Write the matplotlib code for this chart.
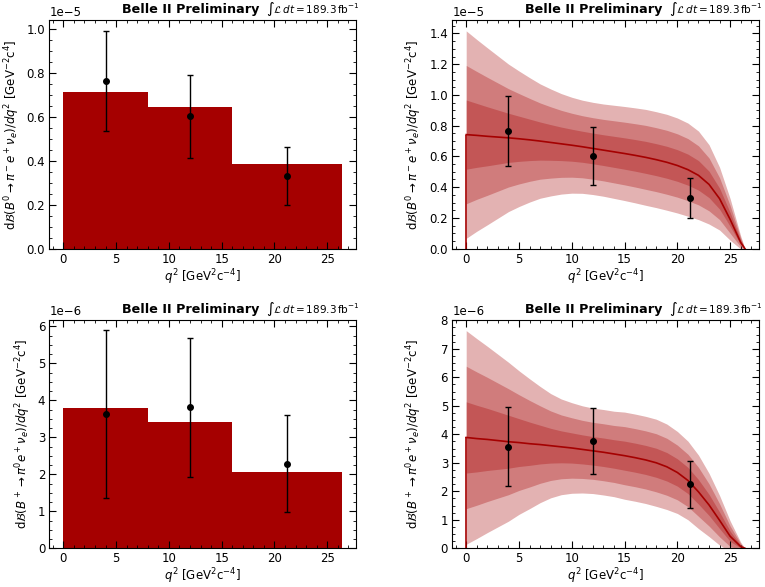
import numpy as np
import matplotlib
matplotlib.use("Agg")
import matplotlib.pyplot as plt
from matplotlib.ticker import AutoMinorLocator

# ------------------------------------------------------------------
# data
# ------------------------------------------------------------------
bin_edges = [0.0, 8.0, 16.0, 26.4]
q2_points = [4.0, 12.0, 21.2]

# B0 -> pi- e+ nu  (units 1e-5)
b0_bars = [0.714, 0.643, 0.385]
b0_vals = [0.764, 0.602, 0.329]
b0_errs = [0.227, 0.190, 0.132]

# B+ -> pi0 e+ nu  (units 1e-6)
bp_bars = [3.79, 3.41, 2.06]
bp_vals = [3.62, 3.81, 2.29]
bp_errs_left = [2.27, 1.88, 1.32]
bp_vals_fit = [3.57, 3.76, 2.25]
bp_errs_fit = [1.40, 1.15, 0.82]

# fitted spectrum and its uncertainty, sampled along q2
q2_grid = [0, 1, 2, 3, 4, 5, 6, 7, 8, 9, 10, 11, 12, 13, 14, 15, 16, 17,
           18, 19, 20, 21, 22, 23, 24, 25, 26, 26.4]
b0_fit = [0.742, 0.737, 0.731, 0.726, 0.721, 0.715, 0.708, 0.700, 0.691,
          0.682, 0.673, 0.663, 0.652, 0.641, 0.630, 0.619, 0.607, 0.594,
          0.579, 0.562, 0.541, 0.514, 0.477, 0.418, 0.325, 0.190, 0.040, 0.0]
b0_sig = [0.225, 0.208, 0.192, 0.176, 0.160, 0.147, 0.135, 0.124, 0.116,
          0.109, 0.104, 0.101, 0.100, 0.100, 0.101, 0.102, 0.103, 0.104,
          0.104, 0.104, 0.103, 0.101, 0.096, 0.086, 0.068, 0.045, 0.014, 0.0]
bp_fit = [3.89, 3.85, 3.82, 3.78, 3.74, 3.71, 3.67, 3.64, 3.60, 3.56, 3.52,
          3.47, 3.42, 3.37, 3.31, 3.25, 3.18, 3.10, 3.00, 2.86, 2.66, 2.38,
          1.98, 1.52, 0.98, 0.42, 0.06, 0.0]
bp_sig = [1.25, 1.17, 1.09, 1.01, 0.93, 0.84, 0.76, 0.68, 0.61, 0.56, 0.53,
          0.51, 0.50, 0.50, 0.50, 0.51, 0.51, 0.51, 0.51, 0.50, 0.48, 0.46,
          0.43, 0.37, 0.29, 0.18, 0.05, 0.0]

RED = "#a50000"
xlabel = r"$q^2$ [GeV$^2$c$^{-4}$]"
ylabel_b0 = r"d$\mathcal{B}(B^0 \to \pi^- e^+ \nu_e)/dq^2$ [GeV$^{-2}$c$^4$]"
ylabel_bp = r"d$\mathcal{B}(B^+ \to \pi^0 e^+ \nu_e)/dq^2$ [GeV$^{-2}$c$^4$]"

plt.rcParams["font.family"] = ["DejaVu Sans"]
plt.rcParams["mathtext.fontset"] = "dejavusans"


def style(ax, ylabel, yminor=4):
    ax.tick_params(which="both", direction="in", top=True, right=True,
                   labelsize=8.5, pad=3)
    ax.tick_params(which="major", length=5)
    ax.tick_params(which="minor", length=2.5)
    ax.xaxis.set_minor_locator(AutoMinorLocator(5))
    ax.yaxis.set_minor_locator(AutoMinorLocator(yminor))
    ax.yaxis.get_offset_text().set_fontsize(8.5)
    ax.set_xlabel(xlabel, fontsize=8.5, labelpad=1)
    ax.set_ylabel(ylabel, fontsize=8.5, labelpad=3.5)
    ax.text(0.685, 1.03, "Belle II Preliminary", transform=ax.transAxes,
            ha="right", va="baseline", fontsize=9.2, fontweight="bold")
    ax.text(1.012, 1.03, r"$\int\mathcal{L}\,dt = 189.3\,\mathrm{fb}^{-1}$",
            transform=ax.transAxes, ha="right", va="baseline", fontsize=7.5)


def bars(ax, heights, vals, errs, scale):
    edges = np.array(bin_edges)
    ax.bar(edges[:-1], np.array(heights) * scale, width=np.diff(edges),
           align="edge", color=RED)
    ax.errorbar(q2_points, np.array(vals) * scale, yerr=np.array(errs) * scale,
                fmt="o", color="black", ms=4, elinewidth=1, capsize=2)


def bands(ax, fit, sig, vals, errs, scale):
    q = np.array(q2_grid)
    c = np.array(fit) * scale
    s = np.array(sig) * scale
    for k in (3, 2, 1):
        ax.fill_between(q, c - k * s, c + k * s, color=RED, alpha=0.3, lw=0)
    ax.plot(q, c, color=RED, lw=1.2)
    ax.vlines(q[0], 0, c[0], color=RED, lw=1.2)
    ax.errorbar(q2_points, np.array(vals) * scale, yerr=np.array(errs) * scale,
                fmt="o", color="black", ms=4, elinewidth=1, capsize=2)
    ax.set_ylim(bottom=0)


fig, axes = plt.subplots(2, 2, figsize=(7.65, 5.87), dpi=100)
fig.subplots_adjust(left=0.0645, right=0.992, bottom=0.066, top=0.966,
                    wspace=0.314, hspace=0.31)

bars(axes[0, 0], b0_bars, b0_vals, b0_errs, 1e-5)
bands(axes[0, 1], b0_fit, b0_sig, b0_vals, b0_errs, 1e-5)
bars(axes[1, 0], bp_bars, bp_vals, bp_errs_left, 1e-6)
bands(axes[1, 1], bp_fit, bp_sig, bp_vals_fit, bp_errs_fit, 1e-6)

style(axes[0, 0], ylabel_b0)
style(axes[0, 1], ylabel_b0)
style(axes[1, 0], ylabel_bp)
style(axes[1, 1], ylabel_bp)

# right column: y labels share one x position
fig.align_ylabels(axes[:, 1])

fig.savefig("out.png", dpi=100)
